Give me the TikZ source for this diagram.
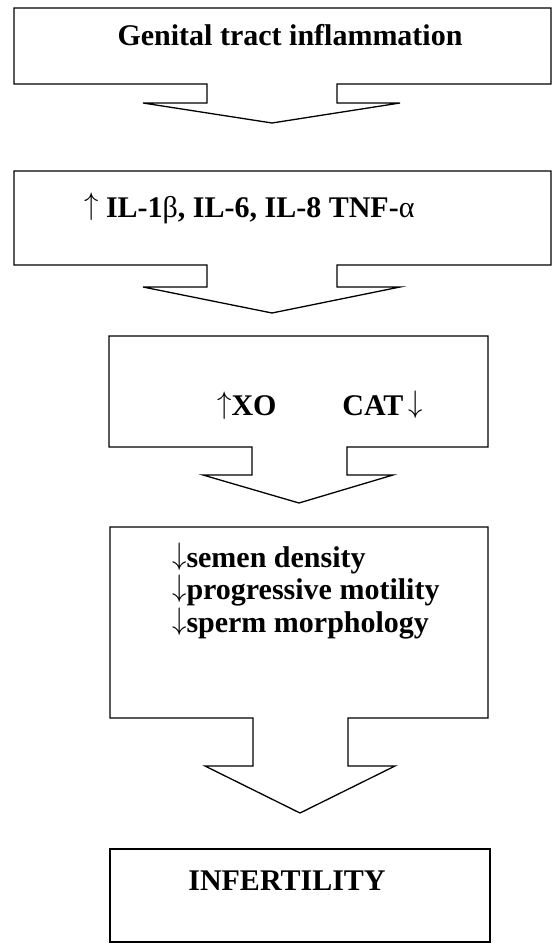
\documentclass[tikz,border=0pt]{standalone}
\usepackage{fontspec}
\setmainfont{Liberation Serif}
\newcommand{\upa}{\raisebox{2pt}{\scalebox{1.15}[1.25]{$\uparrow$}}}
\newcommand{\dna}{\raisebox{3pt}{\scalebox{1.15}[1.25]{$\downarrow$}}}
\begin{document}
\begin{tikzpicture}[x=1pt,y=-1pt,
  outline/.style={draw=black,line width=1.3pt,line join=miter},
  lbl/.style={inner sep=0pt,font=\fontsize{30}{32}\selectfont\bfseries}]
\useasboundingbox[fill=white] (0,0) rectangle (552,944);
% block 1 with arrow
\draw[outline] (14,8) -- (551,8) -- (551,84) -- (337,84) -- (337,103) -- (400,103)
  -- (272,123) -- (143,103) -- (207,103) -- (207,84) -- (14,84) -- cycle;
% block 2 with arrow
\draw[outline] (14,171) -- (551,171) -- (551,265) -- (337,265) -- (337,287) -- (400,287)
  -- (272,313) -- (143,287) -- (207,287) -- (207,265) -- (14,265) -- cycle;
% block 3 with arrow
\draw[outline] (109,336) -- (488,336) -- (488,447) -- (347,447) -- (347,475) -- (393,475)
  -- (299,503) -- (203,475) -- (252,475) -- (252,447) -- (109,447) -- cycle;
% block 4 with arrow
\draw[outline] (110,527) -- (488,527) -- (488,718) -- (348,718) -- (348,766) -- (395,766)
  -- (300,813) -- (205,766) -- (253,766) -- (253,718) -- (110,718) -- cycle;
% block 5
\draw[outline] (110,849) rectangle (490,942);

\node[lbl,anchor=base] (t1) at (290,46) {Genital tract inflammation};
\node[lbl,anchor=base west] (t2) at (84,217) {\upa{} IL-1{\mdseries β}, IL-6, IL-8 TNF-{\mdseries α}};
\node[lbl,anchor=base west] (t3a) at (217,415) {\upa XO};
\node[lbl,anchor=base east] (t3b) at (423,415) {CAT\,\dna};
\node[lbl,anchor=base west] (t4a) at (172,567) {\dna semen density};
\node[lbl,anchor=base west] (t4b) at (172,599) {\dna progressive motility};
\node[lbl,anchor=base west] (t4c) at (172,632) {\dna sperm morphology};
\node[lbl,anchor=base] (t5) at (287,890) {INFERTILITY};
\end{tikzpicture}
\end{document}
